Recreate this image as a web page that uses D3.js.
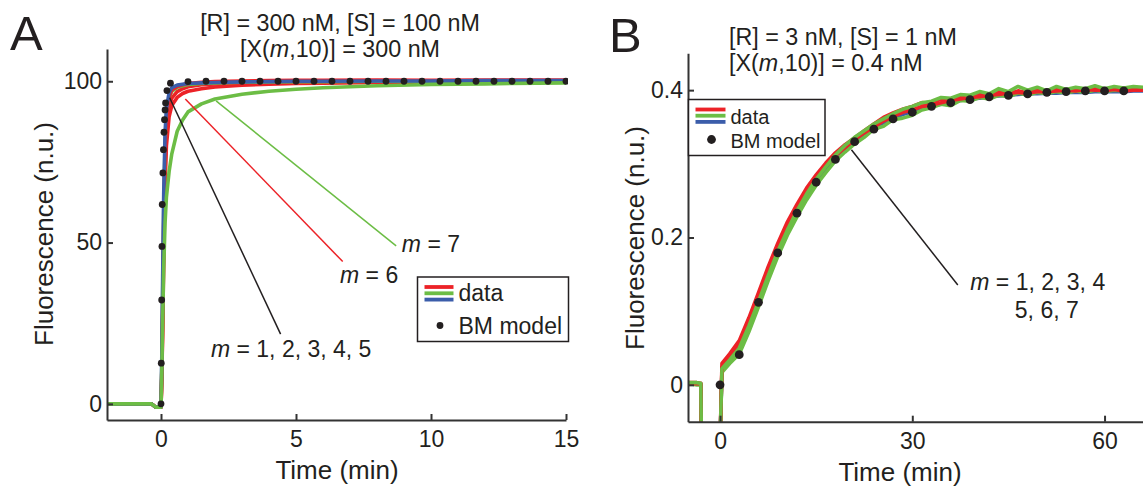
<!DOCTYPE html>
<html>
<head>
<meta charset="utf-8">
<script src="https://cdn.jsdelivr.net/npm/d3@7"></script>
<style>
  body { margin: 0; background: #fff; }
  svg { display: block; font-family: "Liberation Sans", Arial, sans-serif; }
  text { fill: #231f20; }
  .axis path, .axis line { stroke: #333; stroke-width: 2; }
  .axis text { font-size: 23px; fill: #231f20; font-family: "Liberation Sans", Arial, sans-serif; }
</style>
</head>
<body>
<script>
const W = 1143, H = 488;
const red = '#ec2227', green = '#6cbd45', blue = '#3b5daa', dark = '#231f20';

// ---- panel A data (time in min, fluorescence n.u.)
const aTime = [-2, -0.35, -0.2, 0, 0.03, 0.06, 0.1, 0.15, 0.2, 0.3, 0.4, 0.6, 0.8, 1, 1.5, 2, 3, 4, 5, 6, 8, 10, 12, 15];
const aGreen7   = [0, 0, -1, -1, 10, 25, 42, 56, 64, 72, 77.5, 84.5, 88, 90.5, 93, 94.5, 96, 96.9, 97.5, 98, 98.6, 99, 99.2, 99.5];
const aRed6     = [0, 0, -1, -1, 8, 22, 45, 68, 80, 89, 92.5, 95, 96.2, 96.9, 97.7, 98.2, 98.8, 99.1, 99.3, 99.4, 99.6, 99.7, 99.7, 99.8];
const aRedFast2 = [0, 0, -1, -1, 8, 24, 48, 72, 84, 92, 94.8, 96.8, 97.7, 98.3, 98.9, 99.2, 99.5, 99.7, 99.8, 99.9, 100, 100, 100, 100];
const aGreenFast = [0, 0, -1, -1, 12, 32, 60, 80, 89, 95, 96.9, 98.1, 98.6, 99, 99.3, 99.5, 99.7, 99.8, 99.9, 99.9, 100, 100, 100, 100];
const aRedFast  = [0, 0, -1, -1, 10, 28, 55, 78, 88, 95, 97.3, 98.4, 98.9, 99.3, 99.7, 99.9, 100.1, 100.2, 100.3, 100.3, 100.4, 100.3, 100.4, 100.4];
const aBlue     = [0, 0, -1, -1, 15, 38, 65, 84, 91.5, 96.5, 98, 98.8, 99.1, 99.3, 99.5, 99.6, 99.8, 99.9, 100, 100, 100.1, 100.1, 100.2, 100.2];

const aDotT = [0, 0.01, 0.025, 0.035, 0.045, 0.07, 0.09, 0.11, 0.13, 0.15, 0.17, 0.22, 0.35,
  1, 1.667, 2.333, 3, 3.667, 4.333, 5, 5.667, 6.333, 7, 7.667, 8.333, 9, 9.667, 10.333, 11, 11.667, 12.333, 13, 13.667, 14.333, 15];
const aDotV = [0, 12.6, 32.2, 48.8, 61.8, 71.6, 78.8, 84.2, 88.1, 91.1, 93.3, 97.1, 99.4,
  99.9, 100, 100, 100, 100, 100, 100, 100, 100, 100, 100, 100, 100, 100, 100, 100, 100, 100, 100, 100, 100, 100];

const aXTicks = [0, 5, 10, 15];
const aYTicks = [0, 50, 100];

// ---- panel B data
const bTime = [-5, -3.6, -3.0, -2.9, -0.1, 0, 0.3, 1.5, 3, 4.5, 6, 7.5, 9, 10.5, 12, 13.5, 15, 16.5, 18, 19.5, 21, 22.5, 24,
  25.5, 27, 28.5, 30, 31.5, 33, 34.5, 36, 37.5, 39, 40.5, 42, 43.5, 45, 46.5, 48, 49.5, 51, 52.5, 54, 55.5, 57, 58.5, 60, 61.5, 63, 64.5, 66];
const bBlue1 = [0.002, 0.002, 0.001, -0.08, -0.08, -0.08, 0.020, 0.032, 0.048, 0.078, 0.111, 0.146, 0.180, 0.208, 0.234, 0.256, 0.276,
  0.292, 0.307, 0.320, 0.331, 0.340, 0.348, 0.356, 0.362, 0.367, 0.371, 0.375, 0.378, 0.381, 0.384, 0.386, 0.388, 0.389, 0.391, 0.392,
  0.393, 0.394, 0.395, 0.395, 0.396, 0.396, 0.397, 0.397, 0.397, 0.398, 0.398, 0.398, 0.398, 0.399, 0.399];
const bRed1 = [0.003, 0.003, 0.002, -0.08, -0.08, -0.08, 0.029, 0.042, 0.060, 0.091, 0.125, 0.160, 0.192, 0.221, 0.245, 0.267, 0.285,
  0.301, 0.315, 0.326, 0.335, 0.345, 0.354, 0.363, 0.369, 0.374, 0.378, 0.383, 0.382, 0.388, 0.387, 0.392, 0.390, 0.395, 0.392, 0.398,
  0.395, 0.399, 0.396, 0.401, 0.398, 0.402, 0.398, 0.402, 0.399, 0.403, 0.399, 0.402, 0.400, 0.403, 0.401];
const bRed2 = [0.001, 0.002, 0.001, -0.08, -0.08, -0.08, 0.024, 0.036, 0.054, 0.084, 0.118, 0.152, 0.186, 0.214, 0.240, 0.262, 0.281,
  0.297, 0.311, 0.322, 0.333, 0.342, 0.350, 0.358, 0.364, 0.370, 0.373, 0.378, 0.380, 0.383, 0.386, 0.388, 0.390, 0.391, 0.393, 0.394,
  0.396, 0.397, 0.396, 0.398, 0.398, 0.399, 0.400, 0.399, 0.401, 0.400, 0.400, 0.401, 0.399, 0.400, 0.400];
const bGreen1 = [0.002, 0.000, 0.000, -0.08, -0.08, -0.08, 0.017, 0.029, 0.042, 0.072, 0.106, 0.141, 0.174, 0.203, 0.228, 0.251, 0.271,
  0.288, 0.304, 0.316, 0.327, 0.336, 0.347, 0.351, 0.360, 0.362, 0.366, 0.373, 0.376, 0.381, 0.379, 0.386, 0.385, 0.390, 0.388, 0.393,
  0.391, 0.396, 0.393, 0.397, 0.395, 0.398, 0.396, 0.399, 0.397, 0.400, 0.398, 0.400, 0.399, 0.401, 0.400];
const bGreen2 = [0.003, 0.003, 0.002, -0.08, -0.08, -0.08, 0.022, 0.034, 0.050, 0.080, 0.113, 0.148, 0.181, 0.210, 0.236, 0.259, 0.279,
  0.296, 0.312, 0.325, 0.336, 0.345, 0.354, 0.361, 0.368, 0.374, 0.378, 0.383, 0.385, 0.390, 0.389, 0.394, 0.393, 0.398, 0.395, 0.402,
  0.398, 0.405, 0.400, 0.404, 0.399, 0.405, 0.401, 0.404, 0.402, 0.406, 0.402, 0.405, 0.403, 0.405, 0.404];

const bDotT = [0, 3, 6, 9, 12, 15, 18, 21, 24, 27, 30, 33, 36, 39, 42, 45, 48, 51, 54, 57, 60, 63];
const bDotV = [0, 0.041, 0.112, 0.179, 0.233, 0.275, 0.306, 0.330, 0.347, 0.361, 0.370, 0.378, 0.383, 0.387, 0.391, 0.393,
  0.395, 0.397, 0.398, 0.399, 0.399, 0.399];

const bXTicks = [0, 30, 60];
const bYTicks = [0, 0.2, 0.4];

const svg = d3.select('body').append('svg').attr('width', W).attr('height', H);

function panel(o) {
  const x = d3.scaleLinear().domain(o.xDomain).range(o.xRange);
  const y = d3.scaleLinear().domain(o.yDomain).range(o.yRange);
  const g = svg.append('g');

  const clipId = 'clip-' + o.id;
  svg.append('clipPath').attr('id', clipId).append('rect')
    .attr('x', o.xRange[0]).attr('y', o.yRange[1] - 10)
    .attr('width', o.xRange[1] - o.xRange[0] + 2).attr('height', o.yRange[0] - o.yRange[1] + 10);

  const line = d3.line().x((d, i) => x(o.time[i])).y(d => y(d));
  const curves = g.append('g').attr('clip-path', `url(#${clipId})`);
  o.series.forEach(s => {
    curves.append('path')
      .attr('d', line(s.values))
      .attr('fill', 'none')
      .attr('stroke', s.color)
      .attr('stroke-width', o.lineWidth)
      .attr('stroke-linejoin', 'round');
  });

  curves.selectAll('circle.dot')
    .data(o.dotT)
    .enter().append('circle')
    .attr('class', 'dot')
    .attr('cx', d => x(d))
    .attr('cy', (d, i) => y(o.dotV[i]))
    .attr('r', o.dotR)
    .attr('fill', dark);

  g.append('g').attr('class', 'axis')
    .attr('transform', `translate(0,${o.yRange[0]})`)
    .call(d3.axisBottom(x).tickValues(o.xTicks).tickSize(-6).tickSizeOuter(0).tickPadding(11).tickFormat(d3.format('')));
  g.append('g').attr('class', 'axis')
    .attr('transform', `translate(${o.xRange[0]},0)`)
    .call(d3.axisLeft(y).tickValues(o.yTicks).tickSize(-6).tickSizeOuter(0).tickPadding(5).tickFormat(d3.format('')));

  return { x, y, g };
}

// ---------------- Panel A
const A = panel({
  id: 'a', xDomain: [-2, 15], xRange: [107, 566], yDomain: [-5, 110], yRange: [420, 49],
  time: aTime, lineWidth: 3.6, dotR: 3.4, dotT: aDotT, dotV: aDotV,
  xTicks: aXTicks, yTicks: aYTicks,
  series: [
    { values: aRed6, color: red },
    { values: aRedFast2, color: red },
    { values: aGreenFast, color: green },
    { values: aRedFast, color: red },
    { values: aBlue, color: blue },
    { values: aGreen7, color: green }
  ]
});

// ---------------- Panel B
const B = panel({
  id: 'b', xDomain: [-5, 66], xRange: [688, 1143], yDomain: [-0.05, 0.45], yRange: [421.7, 53.3],
  time: bTime, lineWidth: 3.6, dotR: 4.4, dotT: bDotT, dotV: bDotV,
  xTicks: bXTicks, yTicks: bYTicks,
  series: [
    { values: bBlue1, color: blue },
    { values: bGreen1, color: green },
    { values: bRed2, color: red },
    { values: bRed1, color: red },
    { values: bGreen2, color: green }
  ]
});

// panel letters
svg.append('text').attr('x', 10).attr('y', 50).attr('font-size', 49).text('A');
svg.append('text').attr('x', 609).attr('y', 51.5).attr('font-size', 49).text('B');

// axis labels
function axisLabels(cx, labelX, cy, timeY) {
  svg.append('text').attr('transform', `translate(${labelX},${cy}) rotate(-90)`)
    .attr('text-anchor', 'middle').attr('font-size', 26).text('Fluorescence (n.u.)');
  svg.append('text').attr('x', cx).attr('y', timeY)
    .attr('text-anchor', 'middle').attr('font-size', 26).text('Time (min)');
}
axisLabels(337, 53, 234, 479);
axisLabels(900, 644, 238, 481);

// titles
function title(x, y1, anchor, l1, pre, post) {
  svg.append('text').attr('x', x).attr('y', y1).attr('text-anchor', anchor).attr('font-size', 23.3).text(l1);
  const t = svg.append('text').attr('x', x).attr('y', y1 + 26).attr('text-anchor', anchor).attr('font-size', 23.3);
  t.append('tspan').text(pre);
  t.append('tspan').attr('font-style', 'italic').text('m');
  t.append('tspan').text(post);
}
title(340, 31, 'middle', '[R] = 300 nM, [S] = 100 nM', '[X(', ',10)] = 300 nM');
title(729, 45, 'start', '[R] = 3 nM, [S] = 1 nM', '[X(', ',10)] = 0.4 nM');

// annotations (data coordinates)
function mLabel(sc, tx, vy, rest) {
  const t = svg.append('text').attr('x', sc.x(tx)).attr('y', sc.y(vy)).attr('font-size', 23);
  t.append('tspan').attr('font-style', 'italic').text('m');
  t.append('tspan').text(rest);
  return t;
}
function leader(sc, t0, v0, t1, v1, color) {
  svg.append('line')
    .attr('x1', sc.x(t0)).attr('y1', sc.y(v0)).attr('x2', sc.x(t1)).attr('y2', sc.y(v1))
    .attr('stroke', color).attr('stroke-width', 1.5);
}
leader(A, 0.32, 94.9, 4.43, 21.6, dark);
leader(A, 0.9, 94.5, 6.73, 44.1, red);
leader(A, 2.04, 93.9, 8.71, 49.0, green);
mLabel(A, 8.92, 47, ' = 7');
mLabel(A, 6.63, 37.4, ' = 6');
mLabel(A, 1.85, 14.6, ' = 1, 2, 3, 4, 5');

leader(B, 20.5, 0.319, 37.1, 0.1356, dark);
mLabel(B, 39.05, 0.129, ' = 1, 2, 3, 4');
svg.append('text').attr('x', B.x(46.0)).attr('y', B.y(0.0904)).attr('font-size', 23).text('5, 6, 7');

// legends
function legend(x0, y0, w, h, lineLen, gap, dotR, fs) {
  const lg = svg.append('g').attr('transform', `translate(${x0},${y0})`);
  lg.append('rect').attr('width', w).attr('height', h)
    .attr('fill', '#fff').attr('stroke', dark).attr('stroke-width', 1.5);
  [red, green, blue].forEach((c, i) => {
    lg.append('line').attr('x1', 7).attr('x2', 7 + lineLen)
      .attr('y1', 10 + i * gap).attr('y2', 10 + i * gap)
      .attr('stroke', c).attr('stroke-width', 3.8);
  });
  lg.append('text').attr('x', 12 + lineLen).attr('y', 10 + gap + 8).attr('font-size', fs).text('data');
  lg.append('circle').attr('cx', 7 + lineLen / 2 + 1).attr('cy', h - 16).attr('r', dotR).attr('fill', dark);
  lg.append('text').attr('x', 12 + lineLen).attr('y', h - 8).attr('font-size', fs).text('BM model');
}
legend(417.5, 277, 151, 64.5, 29, 6.3, 3.4, 23);
legend(688.5, 99.5, 136.5, 56, 30, 6.2, 4.4, 20);
</script>
</body>
</html>
